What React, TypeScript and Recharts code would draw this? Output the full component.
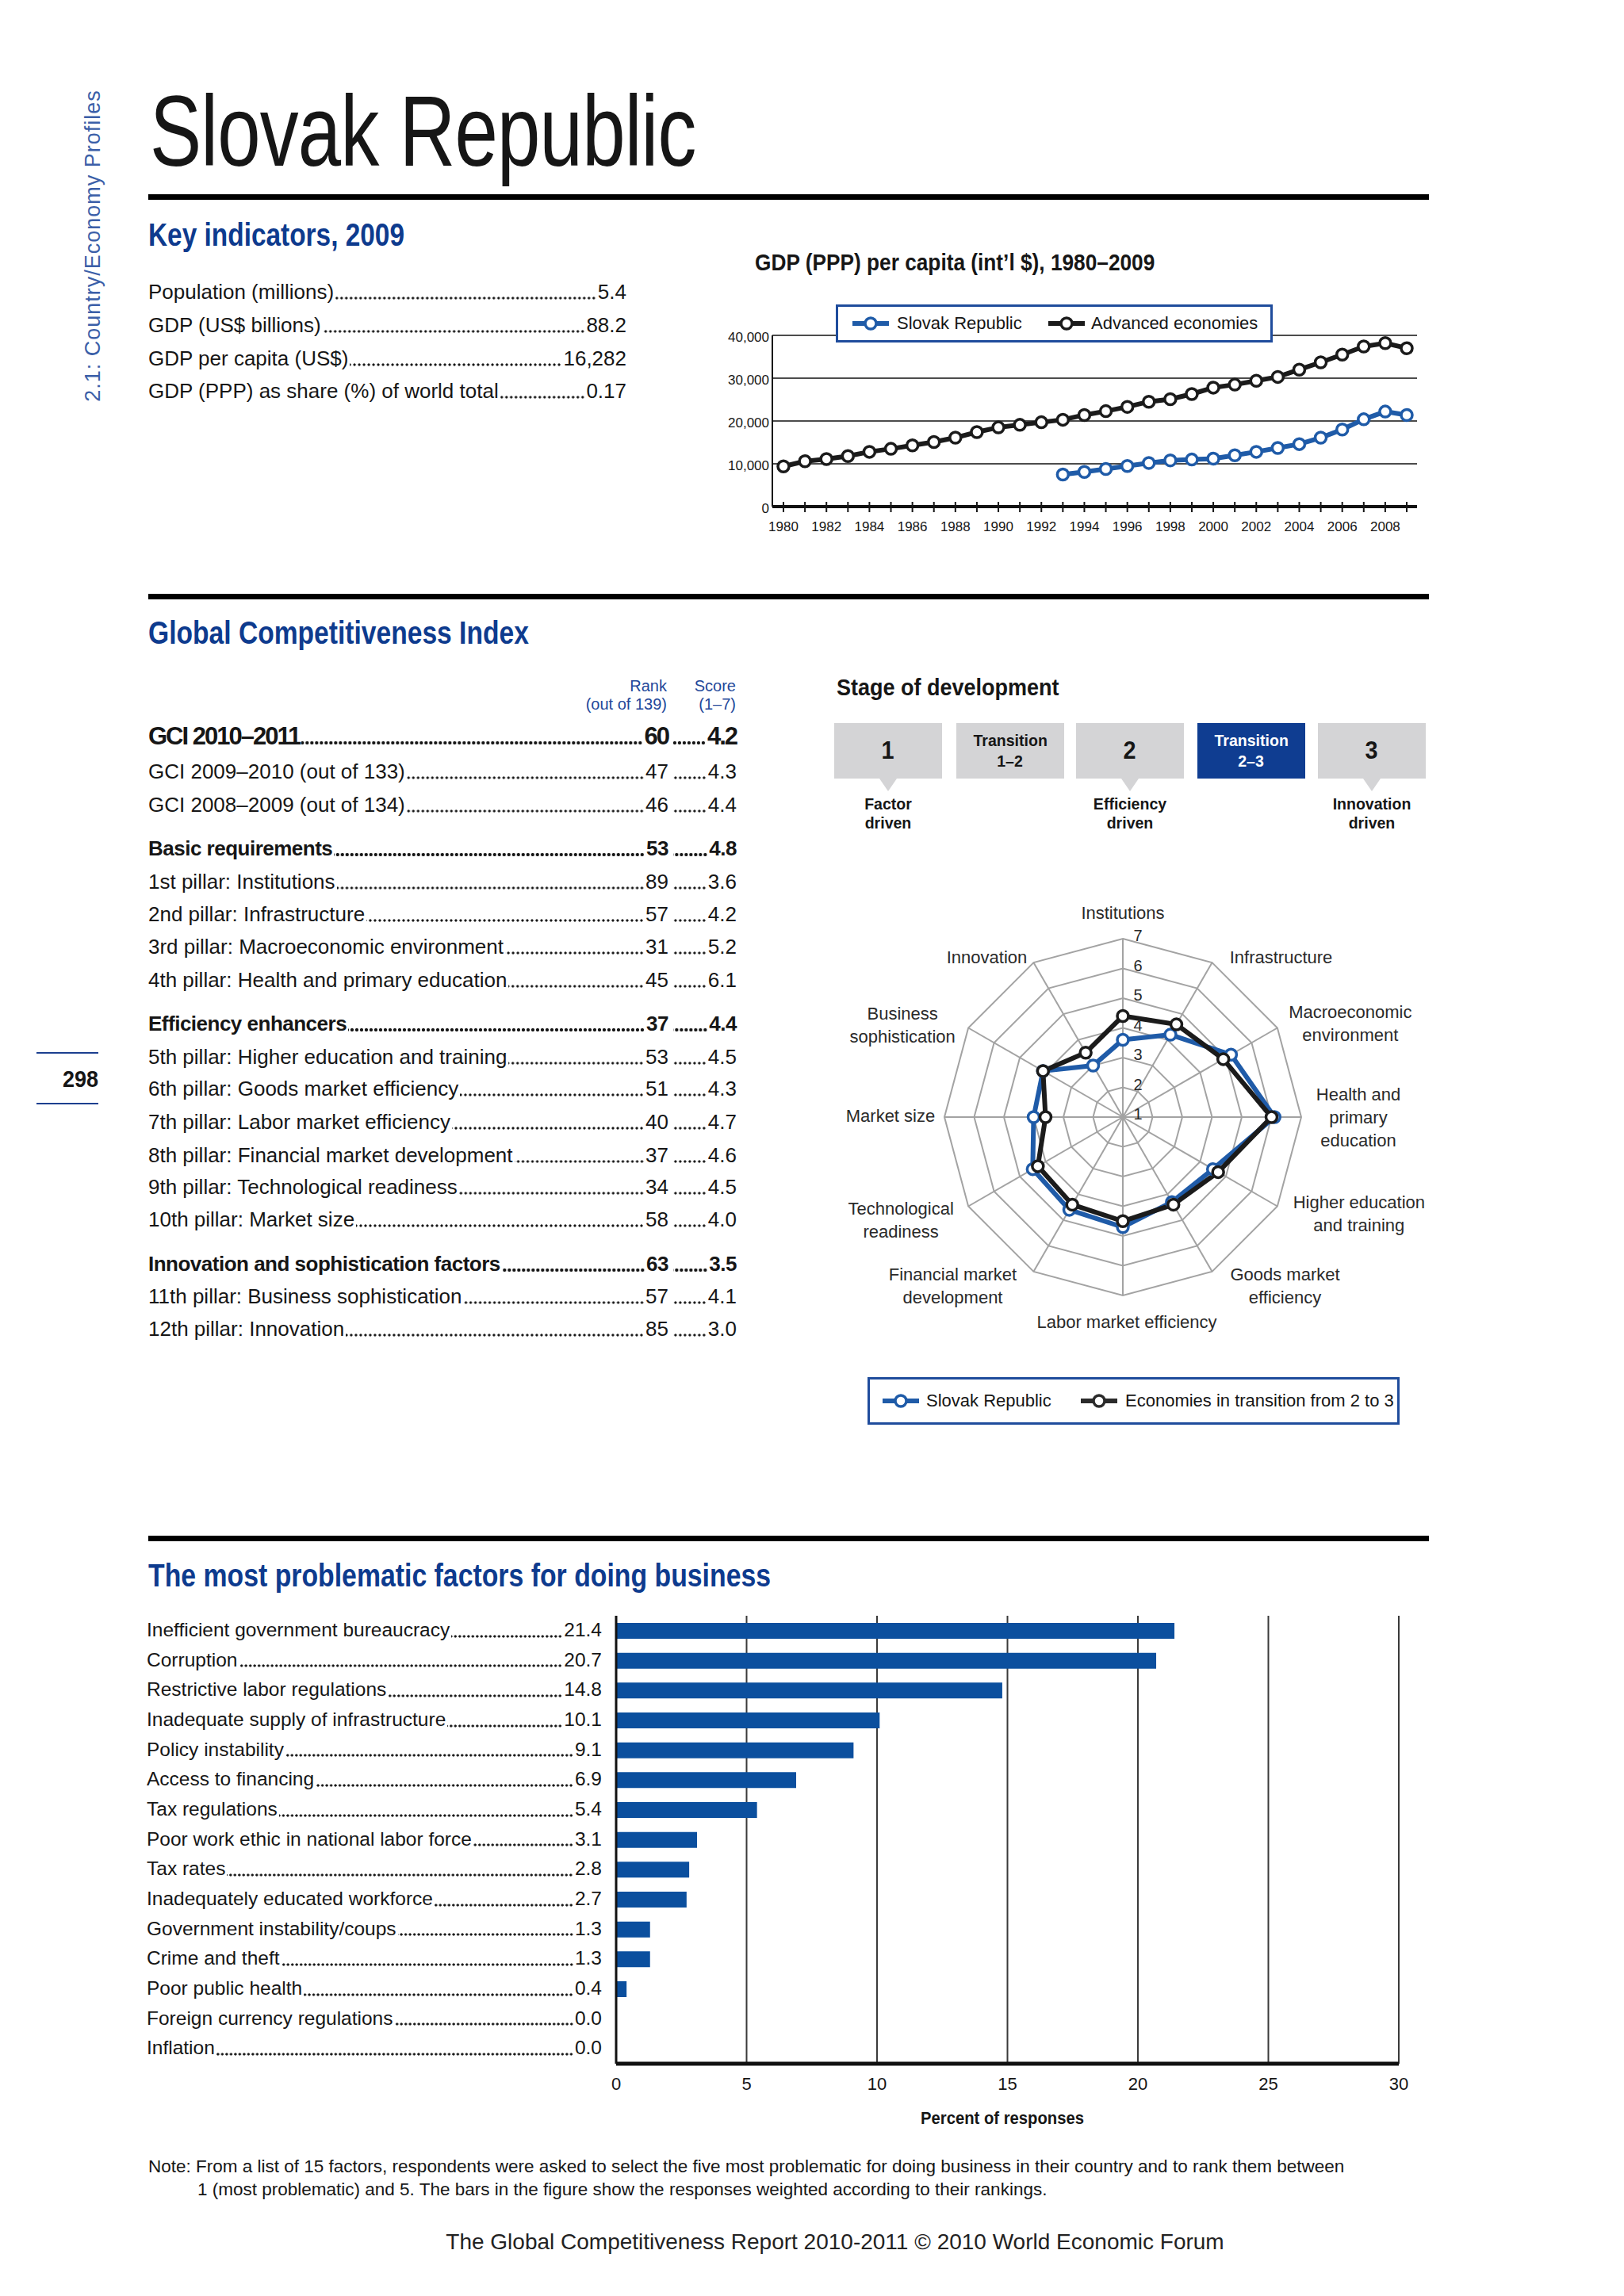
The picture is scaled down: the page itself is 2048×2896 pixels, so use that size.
import React from 'react';
import {
  LineChart, Line, XAxis, YAxis, CartesianGrid,
  RadarChart, PolarGrid, PolarAngleAxis, PolarRadiusAxis, Radar,
  BarChart, Bar,
} from 'recharts';

// ---------------- data ----------------
const KEY_LABELS = ['Population (millions)', 'GDP (US$ billions)', 'GDP per capita (US$)', 'GDP (PPP) as share (%) of world total'];
const KEY_VALUES = ['5.4', '88.2', '16,282', '0.17'];

const GDP_YEARS = [1980, 1981, 1982, 1983, 1984, 1985, 1986, 1987, 1988, 1989, 1990, 1991, 1992, 1993, 1994, 1995, 1996, 1997, 1998, 1999, 2000, 2001, 2002, 2003, 2004, 2005, 2006, 2007, 2008, 2009];
const GDP_TICK_LABELS = [1980, 1982, 1984, 1986, 1988, 1990, 1992, 1994, 1996, 1998, 2000, 2002, 2004, 2006, 2008];
const GDP_Y_TICKS = [0, 10000, 20000, 30000, 40000];
const ADV_GDP = [9400, 10600, 11100, 11800, 12800, 13500, 14300, 15100, 16100, 17400, 18500, 19100, 19700, 20300, 21400, 22300, 23300, 24500, 25100, 26300, 27800, 28500, 29400, 30300, 32000, 33700, 35500, 37400, 38200, 37000];
const SVK_GDP = [null, null, null, null, null, null, null, null, null, null, null, null, null, 7500, 8100, 8800, 9500, 10200, 10800, 11000, 11200, 12000, 12800, 13700, 14600, 16100, 18000, 20400, 22200, 21400];

const GCI_LABELS = [
  'GCI 2010\u20132011', 'GCI 2009\u20132010 (out of 133)', 'GCI 2008\u20132009 (out of 134)',
  'Basic requirements', '1st pillar: Institutions', '2nd pillar: Infrastructure', '3rd pillar: Macroeconomic environment', '4th pillar: Health and primary education',
  'Efficiency enhancers', '5th pillar: Higher education and training', '6th pillar: Goods market efficiency', '7th pillar: Labor market efficiency', '8th pillar: Financial market development', '9th pillar: Technological readiness', '10th pillar: Market size',
  'Innovation and sophistication factors', '11th pillar: Business sophistication', '12th pillar: Innovation',
];
const GCI_RANKS = ['60', '47', '46', '53', '89', '57', '31', '45', '37', '53', '51', '40', '37', '34', '58', '63', '57', '85'];
const GCI_SCORES = ['4.2', '4.3', '4.4', '4.8', '3.6', '4.2', '5.2', '6.1', '4.4', '4.5', '4.3', '4.7', '4.6', '4.5', '4.0', '3.5', '4.1', '3.0'];

const STAGE_TITLES = [['1'], ['Transition', '1\u20132'], ['2'], ['Transition', '2\u20133'], ['3']];
const STAGE_NOTES = [['Factor', 'driven'], null, ['Efficiency', 'driven'], null, ['Innovation', 'driven']];
const STAGE_CURRENT = 3;

const PILLAR_LABELS = [
  'Institutions', 'Infrastructure', 'Macroeconomic\nenvironment', 'Health and\nprimary\neducation',
  'Higher education\nand training', 'Goods market\nefficiency', 'Labor market efficiency', 'Financial market\ndevelopment',
  'Technological\nreadiness', 'Market size', 'Business\nsophistication', 'Innovation',
];
const SVK_SCORES = [3.6, 4.2, 5.2, 6.1, 4.5, 4.3, 4.7, 4.6, 4.5, 4.0, 4.1, 3.0];
const TRANS_SCORES = [4.4, 4.6, 4.9, 6.0, 4.7, 4.4, 4.5, 4.4, 4.3, 3.6, 4.1, 3.5];
const RADAR_TICKS = [1, 2, 3, 4, 5, 6, 7];

const FACTOR_LABELS = [
  'Inefficient government bureaucracy', 'Corruption', 'Restrictive labor regulations', 'Inadequate supply of infrastructure',
  'Policy instability', 'Access to financing', 'Tax regulations', 'Poor work ethic in national labor force', 'Tax rates',
  'Inadequately educated workforce', 'Government instability/coups', 'Crime and theft', 'Poor public health',
  'Foreign currency regulations', 'Inflation',
];
const FACTOR_VALUES = [21.4, 20.7, 14.8, 10.1, 9.1, 6.9, 5.4, 3.1, 2.8, 2.7, 1.3, 1.3, 0.4, 0.0, 0.0];
const BAR_TICKS = [0, 5, 10, 15, 20, 25, 30];

// ---------------- style / layout ----------------
const SANS = "'Liberation Sans', Arial, Helvetica, sans-serif";
const INK = '#161616';
const HEAD_BLUE = '#0e3b8e';
const LEGEND_BLUE = '#1f4c9c';
const LINE_BLUE = '#1f5ba8';
const LINE_BLACK = '#1b1b1b';
const BAR_BLUE = '#0b4f9e';

const GCI_ROW_Y = [928, 973, 1015, 1070, 1112, 1153, 1194, 1236, 1291, 1333, 1373, 1415, 1457, 1497, 1538, 1594, 1635, 1676];
const GCI_ROW_KIND = ['top', 'reg', 'reg', 'bold', 'reg', 'reg', 'reg', 'reg', 'bold', 'reg', 'reg', 'reg', 'reg', 'reg', 'reg', 'bold', 'reg', 'reg'];
const KEY_ROW_Y = [368, 410, 452, 493];
const STAGE_X = [1052, 1206, 1357, 1510, 1662];

const RADAR_CX = 410;
const RADAR_CY = 310;
const RADAR_R = 225;
const LABEL_OFFSETS = [[0, -33], [87, -7], [92, -6], [72, 0], [103, 9], [92, 18], [5, 33], [-102, 18], [-85, 17], [-68, -2], [-83, -4], [-59, -7]];

// ---------------- helpers ----------------
type TP = {
  x: number; y: number; size: number; children: React.ReactNode; weight?: number; color?: string;
  sx?: number; anchor?: 'start' | 'middle' | 'end'; ls?: number; family?: string;
};
function T({ x, y, size, children, weight = 400, color = INK, sx = 1, anchor = 'start', ls = 0, family = SANS }: TP) {
  const tx = anchor === 'middle' ? '-50%' : anchor === 'end' ? '-100%' : '0';
  const origin = anchor === 'middle' ? 'center' : anchor === 'end' ? 'right' : 'left';
  return (
    <div style={{
      position: 'absolute', left: x, top: y - size * 0.5, fontSize: size, lineHeight: `${size}px`, height: size,
      fontWeight: weight, color, whiteSpace: 'nowrap', fontFamily: family, letterSpacing: ls,
      transform: `translateX(${tx}) scaleX(${sx})`, transformOrigin: `${origin} center`,
    }}>{children}</div>
  );
}

// dotted leader drawn as a background pattern sitting on the text baseline
function Dots({ size, bold = false, pitch = 6, grow = true, width }: { size: number; bold?: boolean; pitch?: number; grow?: boolean; width?: number }) {
  const r = bold ? 1.8 : 1.3;
  const base = size * 0.8465;
  const h = 6;
  return (
    <span style={{
      display: 'block', flex: grow ? '1 1 0' : undefined, width, minWidth: 0, height: size,
      margin: '0 2px',
      backgroundImage: `radial-gradient(circle at center, ${INK} ${r}px, transparent ${r + 0.6}px)`,
      backgroundSize: `${pitch}px ${h}px`, backgroundRepeat: 'repeat-x',
      backgroundPosition: `right ${base - r - h / 2 + 0.5}px`,
    }} />
  );
}

function Leader({ x, y, width, size, label, value, weight = 400, ls = 0 }: any) {
  return (
    <div style={{
      position: 'absolute', left: x, top: y - size * 0.5, width, height: size, display: 'flex', alignItems: 'flex-start',
      fontSize: size, lineHeight: `${size}px`, fontWeight: weight, color: INK, whiteSpace: 'nowrap', letterSpacing: ls,
    }}>
      <span>{label}</span>
      <Dots size={size} bold={weight > 400} />
      <span>{value}</span>
    </div>
  );
}

function GciRow({ i }: { i: number }) {
  const kind = GCI_ROW_KIND[i];
  const size = kind === 'top' ? 31 : 26;
  const weight = kind === 'reg' ? 400 : 700;
  const ls = kind === 'top' ? -2 : kind === 'bold' ? -0.5 : 0;
  const y = GCI_ROW_Y[i];
  const common: React.CSSProperties = { display: 'flex', alignItems: 'flex-start', boxSizing: 'border-box' };
  return (
    <div style={{
      position: 'absolute', left: 187, top: y - size * 0.5, width: 742, height: size, display: 'flex',
      fontSize: size, lineHeight: `${size}px`, fontWeight: weight, color: INK, whiteSpace: 'nowrap', letterSpacing: ls,
    }}>
      <div style={{ ...common, width: 656 }}>
        <span>{GCI_LABELS[i]}</span>
        <Dots size={size} bold={weight > 400} />
        <span>{GCI_RANKS[i]}</span>
      </div>
      <div style={{ ...common, width: 86, paddingLeft: 4 }}>
        <Dots size={size} bold={weight > 400} />
        <span>{GCI_SCORES[i]}</span>
      </div>
    </div>
  );
}

function LegendIcon({ color }: { color: string }) {
  return (
    <svg width={46} height={22} style={{ display: 'block' }}>
      <line x1={0} x2={46} y1={11} y2={11} stroke={color} strokeWidth={6} />
      <circle cx={23} cy={11} r={7} fill="#fff" stroke={color} strokeWidth={3.5} />
    </svg>
  );
}

function LegendBox({ left, top, width, height, items }: any) {
  return (
    <div style={{
      position: 'absolute', left, top, width, height, boxSizing: 'border-box', border: `3px solid ${LEGEND_BLUE}`,
      background: '#fff',
    }}>
      {items.map((it: any, k: number) => (
        <React.Fragment key={k}>
          <div style={{ position: 'absolute', left: it.icon - left, top: height / 2 - 11 - 3 }}>
            <LegendIcon color={it.color} />
          </div>
          <div style={{
            position: 'absolute', left: it.text - left, top: height / 2 - 3 - 11, fontSize: 22, lineHeight: '22px',
            color: INK, whiteSpace: 'nowrap',
          }}>{it.label}</div>
        </React.Fragment>
      ))}
    </div>
  );
}

// ---------------- chart ticks ----------------
const GDP_PLOT_BOTTOM = 229; // chart-local y of x axis (top margin 13 + plot 216)

function GdpXTick(props: any) {
  const { x, payload } = props;
  const yr = Number(payload.value);
  const y0 = GDP_PLOT_BOTTOM;
  return (
    <g>
      <line x1={x} x2={x} y1={y0 - 6} y2={y0 + 7} stroke={INK} strokeWidth={2} />
      {GDP_TICK_LABELS.includes(yr) && (
        <text x={x} y={y0 + 25} dy="0.36em" textAnchor="middle" fontSize={17} fill={INK}>{yr}</text>
      )}
    </g>
  );
}

function GdpYTick(props: any) {
  const { x, y, payload } = props;
  return (
    <text x={x - 4} y={y + 2} dy="0.36em" textAnchor="end" fontSize={17} fill={INK}>
      {Number(payload.value).toLocaleString('en-US')}
    </text>
  );
}

function AngleTick(props: any) {
  const { payload } = props;
  let index = props.index;
  if (index === undefined || index === null) index = PILLAR_LABELS.indexOf(payload.value);
  const cx = props.cx ?? RADAR_CX;
  const cy = props.cy ?? RADAR_CY;
  const ang = ((90 - index * 30) * Math.PI) / 180;
  const vx = cx + RADAR_R * Math.cos(ang);
  const vy = cy - RADAR_R * Math.sin(ang);
  const [dx, dy] = LABEL_OFFSETS[index] || [0, 0];
  const lines = String(payload.value).split('\n');
  const lh = 29;
  const lx = vx + dx;
  const y0 = vy + dy - ((lines.length - 1) * lh) / 2;
  return (
    <text textAnchor="middle" fontSize={22} fill="#2a2a2a">
      {lines.map((l, k) => (
        <tspan key={k} x={lx} y={y0 + k * lh} dy="0.36em">{l}</tspan>
      ))}
    </text>
  );
}

function RadiusTick(props: any) {
  const { x, y, payload } = props;
  return (
    <text x={x + 19} y={y - 4} dy="0.36em" textAnchor="middle" fontSize={20} fill="#2a2a2a">{payload.value}</text>
  );
}

function FactorTick(props: any) {
  const { x, y, payload } = props;
  let i = props.index;
  if (i === undefined || i === null) i = FACTOR_LABELS.indexOf(payload.value);
  const v = FACTOR_VALUES[i];
  const size = 24.5;
  return (
    <foreignObject x={x - 592} y={y - 18} width={574} height={36}>
      <div style={{
        display: 'flex', alignItems: 'flex-start', height: 36, paddingTop: 5, boxSizing: 'border-box',
        fontSize: size, lineHeight: `${size}px`, fontFamily: SANS, color: INK, whiteSpace: 'nowrap',
      }}>
        <span>{payload.value}</span>
        <Dots size={size} pitch={5.5} />
        <span>{v.toFixed(1)}</span>
      </div>
    </foreignObject>
  );
}

function BarXTick(props: any) {
  const { x, y, payload } = props;
  return (
    <text x={x} y={y + 25} dy="0.36em" textAnchor="middle" fontSize={22} fill={INK}>{payload.value}</text>
  );
}

// ---------------- app ----------------
export default function App() {
  const gdpData = GDP_YEARS.map((year, i) => ({ year, adv: ADV_GDP[i], svk: SVK_GDP[i] }));
  const radarData = PILLAR_LABELS.map((pillar, i) => ({ pillar, svk: SVK_SCORES[i], trans: TRANS_SCORES[i] }));
  const barData = FACTOR_LABELS.map((factor, i) => ({ factor, value: FACTOR_VALUES[i] }));

  return (
    <div style={{ position: 'relative', width: 2048, height: 2896, background: '#fff', overflow: 'hidden', fontFamily: SANS, color: INK }}>
      <style>{'body{margin:0;background:#fff}'}</style>

      {/* side label */}
      <div style={{
        position: 'absolute', left: 117, top: 310, transform: 'translate(-50%, -50%) rotate(-90deg)',
        fontSize: 27, letterSpacing: 1, color: '#3b5fa8', whiteSpace: 'nowrap', lineHeight: '30px',
      }}>2.1: Country/Economy Profiles</div>

      {/* page number */}
      <div style={{ position: 'absolute', left: 46, top: 1327, width: 78, height: 2, background: '#1c3f8f' }} />
      <div style={{ position: 'absolute', left: 46, top: 1391, width: 78, height: 2, background: '#1c3f8f' }} />
      <T x={124} y={1361} size={30} weight={700} anchor="end" sx={0.9}>298</T>

      {/* title */}
      <T x={189} y={166} size={126} sx={0.775} ls={-1}>Slovak Republic</T>
      <div style={{ position: 'absolute', left: 187, top: 245, width: 1615, height: 7, background: '#000' }} />

      {/* key indicators */}
      <T x={187} y={296} size={40} weight={700} color={HEAD_BLUE} sx={0.835}>Key indicators, 2009</T>
      {KEY_LABELS.map((l, i) => (
        <Leader key={l} x={187} y={KEY_ROW_Y[i]} width={603} size={26} label={l} value={KEY_VALUES[i]} />
      ))}

      {/* GDP chart */}
      <T x={952} y={331} size={30} weight={700} sx={0.875}>{'GDP (PPP) per capita (int\u2019l $), 1980\u20132009'}</T>
      <div style={{ position: 'absolute', left: 900, top: 410 }}>
        <LineChart width={900} height={280} data={gdpData} margin={{ top: 13, right: 13, bottom: 11, left: 14 }}>
          <CartesianGrid vertical={false} stroke="#111" strokeWidth={1.5} />
          <XAxis dataKey="year" interval={0} tickSize={0} tickMargin={0} tick={(p: any) => <GdpXTick {...p} />}
            axisLine={{ stroke: '#111', strokeWidth: 4 }} height={40} padding={{ left: 14, right: 13 }} />
          <YAxis domain={[0, 40000]} ticks={GDP_Y_TICKS} width={60} axisLine={{ stroke: '#111', strokeWidth: 2 }}
            tickLine={false} tickSize={0} tickMargin={0} tick={(p: any) => <GdpYTick {...p} />} />
          <Line dataKey="adv" stroke={LINE_BLACK} strokeWidth={6} isAnimationActive={false}
            dot={{ r: 7, fill: '#fff', stroke: LINE_BLACK, strokeWidth: 3.5 }} />
          <Line dataKey="svk" stroke={LINE_BLUE} strokeWidth={6} isAnimationActive={false} connectNulls={false}
            dot={{ r: 7, fill: '#fff', stroke: LINE_BLUE, strokeWidth: 3.5 }} />
        </LineChart>
      </div>
      <LegendBox left={1054} top={384} width={551} height={48} items={[
        { icon: 1072, text: 1128, label: 'Slovak Republic', color: LINE_BLUE },
        { icon: 1319, text: 1373, label: 'Advanced economies', color: LINE_BLACK },
      ]} />

      <div style={{ position: 'absolute', left: 187, top: 749, width: 1615, height: 7, background: '#000' }} />

      {/* GCI table */}
      <T x={187} y={798} size={40} weight={700} color={HEAD_BLUE} sx={0.84}>Global Competitiveness Index</T>
      <T x={841} y={865} size={20} color="#23489a" anchor="end">Rank</T>
      <T x={841} y={888} size={20} color="#23489a" anchor="end">(out of 139)</T>
      <T x={928} y={865} size={20} color="#23489a" anchor="end">Score</T>
      <T x={928} y={888} size={20} color="#23489a" anchor="end">{'(1\u20137)'}</T>
      {GCI_LABELS.map((l, i) => <GciRow key={l} i={i} />)}

      {/* Stage of development */}
      <T x={1055} y={867} size={30} weight={700} sx={0.9}>Stage of development</T>
      {STAGE_TITLES.map((lines, k) => {
        const cur = k === STAGE_CURRENT;
        return (
          <div key={k} style={{
            position: 'absolute', left: STAGE_X[k], top: 912, width: 136, height: 70,
            background: cur ? '#0f3d91' : '#d4d4d6', color: cur ? '#fff' : INK,
            display: 'flex', flexDirection: 'column', alignItems: 'center', justifyContent: 'center', fontWeight: 700,
          }}>
            {lines.map((ln, j) => (
              <div key={j} style={{
                fontSize: lines.length > 1 ? 21 : 31, lineHeight: lines.length > 1 ? '26px' : '32px',
                transform: 'scaleX(0.93)',
              }}>{ln}</div>
            ))}
          </div>
        );
      })}
      {STAGE_NOTES.map((note, k) => note && (
        <React.Fragment key={k}>
          <div style={{
            position: 'absolute', left: STAGE_X[k] + 68 - 11, top: 982, width: 0, height: 0,
            borderLeft: '11px solid transparent', borderRight: '11px solid transparent', borderTop: '16px solid #d4d4d6',
          }} />
          <T x={STAGE_X[k] + 68} y={1013} size={21} weight={700} anchor="middle" sx={0.93}>{note[0]}</T>
          <T x={STAGE_X[k] + 68} y={1037} size={21} weight={700} anchor="middle" sx={0.93}>{note[1]}</T>
        </React.Fragment>
      ))}

      {/* Radar */}
      <div style={{ position: 'absolute', left: 1416 - RADAR_CX, top: 1409 - RADAR_CY }}>
        <RadarChart width={820} height={620} data={radarData} cx={RADAR_CX} cy={RADAR_CY} outerRadius={RADAR_R}
          startAngle={90} endAngle={-270}>
          <PolarGrid stroke="#a3a3a3" strokeWidth={2} gridType="polygon" />
          <PolarAngleAxis dataKey="pillar" tickLine={false} axisLine={false} tick={(p: any) => <AngleTick {...p} />} />
          <PolarRadiusAxis angle={90} domain={[1, 7]} ticks={RADAR_TICKS as any} tickCount={7} type="number"
            axisLine={false} tickLine={false} tick={(p: any) => <RadiusTick {...p} />} />
          <Radar dataKey="svk" stroke={LINE_BLUE} strokeWidth={6} fill="none" fillOpacity={0} isAnimationActive={false}
            dot={{ r: 7, fill: '#fff', fillOpacity: 1, stroke: LINE_BLUE, strokeWidth: 3.5 }} />
          <Radar dataKey="trans" stroke={LINE_BLACK} strokeWidth={6} fill="none" fillOpacity={0} isAnimationActive={false}
            dot={{ r: 7, fill: '#fff', fillOpacity: 1, stroke: LINE_BLACK, strokeWidth: 3.5 }} />
        </RadarChart>
      </div>
      <LegendBox left={1094} top={1737} width={671} height={60} items={[
        { icon: 1110, text: 1165, label: 'Slovak Republic', color: LINE_BLUE },
        { icon: 1360, text: 1416, label: 'Economies in transition from 2 to 3', color: '#2b2b2b' },
      ]} />

      <div style={{ position: 'absolute', left: 187, top: 1937, width: 1615, height: 7, background: '#000' }} />

      {/* Problematic factors */}
      <T x={187} y={1987} size={40} weight={700} color={HEAD_BLUE} sx={0.845}>The most problematic factors for doing business</T>
      <div style={{ position: 'absolute', left: 160, top: 2020 }}>
        <BarChart layout="vertical" width={1640} height={640} data={barData}
          margin={{ top: 18, right: 36, bottom: 17, left: 0 }}>
          <CartesianGrid horizontal={false} stroke="#3a3a3a" strokeWidth={2} />
          <XAxis type="number" domain={[0, 30]} ticks={BAR_TICKS} axisLine={{ stroke: '#111', strokeWidth: 5 }}
            tickSize={0} tickMargin={0} tickLine={false} height={40} tick={(p: any) => <BarXTick {...p} />} />
          <YAxis type="category" dataKey="factor" width={617} axisLine={{ stroke: '#111', strokeWidth: 3 }}
            tickSize={0} tickMargin={0} tickLine={false} interval={0} tick={(p: any) => <FactorTick {...p} />} />
          <Bar dataKey="value" fill={BAR_BLUE} barSize={20} isAnimationActive={false} />
        </BarChart>
      </div>
      <T x={1264} y={2672} size={22} weight={700} anchor="middle" sx={0.92}>Percent of responses</T>

      {/* note & footer */}
      <T x={187} y={2733} size={22.5}>Note: From a list of 15 factors, respondents were asked to select the five most problematic for doing business in their country and to rank them between</T>
      <T x={249} y={2762} size={22.5}>1 (most problematic) and 5. The bars in the figure show the responses weighted according to their rankings.</T>
      <T x={1053} y={2828} size={28} anchor="middle" color="#222">{'The Global Competitiveness Report 2010-2011 \u00a9 2010 World Economic Forum'}</T>
    </div>
  );
}
